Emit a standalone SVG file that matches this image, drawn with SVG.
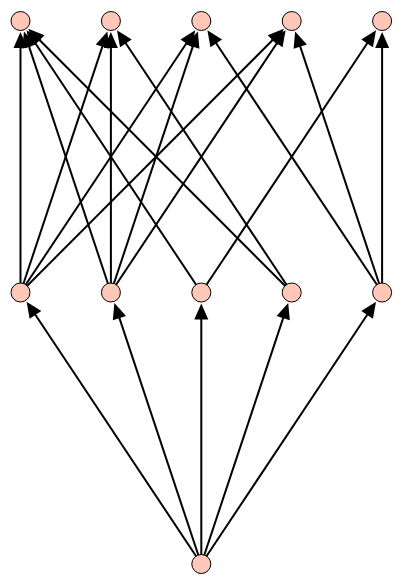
<svg xmlns="http://www.w3.org/2000/svg" width="402" height="584" viewBox="0 0 402 584">
<style>
.e{stroke:#000;stroke-width:2;fill:none;marker-end:url(#ah)}
.n circle{fill:#fec7b8;stroke:#000;stroke-width:1}
</style>
<defs>
<marker id="ah" markerUnits="userSpaceOnUse" markerWidth="16" markerHeight="14" refX="11" refY="7" orient="auto" overflow="visible">
<path d="M0,0 L16,7 L0,14 z" fill="#000"/>
</marker>
</defs>
<rect width="402" height="584" fill="#fff"/>
<g id="connectors">
<line class="e" x1="201.3" y1="564" x2="29.37" y2="305.82"/>
<line class="e" x1="201.3" y1="564" x2="115.95" y2="307.68"/>
<line class="e" x1="201.3" y1="564" x2="201.3" y2="308.5"/>
<line class="e" x1="201.3" y1="564" x2="286.65" y2="307.68"/>
<line class="e" x1="201.3" y1="564" x2="373.23" y2="305.82"/>
<line class="e" x1="20.5" y1="292.5" x2="20.5" y2="37"/>
<line class="e" x1="20.5" y1="292.5" x2="105.85" y2="36.18"/>
<line class="e" x1="20.5" y1="292.5" x2="192.43" y2="34.32"/>
<line class="e" x1="20.5" y1="292.5" x2="280.39" y2="32.32"/>
<line class="e" x1="110.9" y1="292.5" x2="25.55" y2="36.18"/>
<line class="e" x1="110.9" y1="292.5" x2="110.9" y2="37"/>
<line class="e" x1="110.9" y1="292.5" x2="196.25" y2="36.18"/>
<line class="e" x1="110.9" y1="292.5" x2="282.83" y2="34.32"/>
<line class="e" x1="201.3" y1="292.5" x2="29.37" y2="34.32"/>
<line class="e" x1="201.3" y1="292.5" x2="373.23" y2="34.32"/>
<line class="e" x1="291.7" y1="292.5" x2="31.81" y2="32.32"/>
<line class="e" x1="291.7" y1="292.5" x2="119.77" y2="34.32"/>
<line class="e" x1="382.1" y1="292.5" x2="210.17" y2="34.32"/>
<line class="e" x1="382.1" y1="292.5" x2="296.75" y2="36.18"/>
<line class="e" x1="382.1" y1="292.5" x2="382.1" y2="37"/>
</g>
<g id="t1" class="n"><circle cx="20.5" cy="21" r="9.5"/></g>
<g id="t2" class="n"><circle cx="110.9" cy="21" r="9.5"/></g>
<g id="t3" class="n"><circle cx="201.3" cy="21" r="9.5"/></g>
<g id="t4" class="n"><circle cx="291.7" cy="21" r="9.5"/></g>
<g id="t5" class="n"><circle cx="382.1" cy="21" r="9.5"/></g>
<g id="m1" class="n"><circle cx="20.5" cy="292.5" r="9.5"/></g>
<g id="m2" class="n"><circle cx="110.9" cy="292.5" r="9.5"/></g>
<g id="m3" class="n"><circle cx="201.3" cy="292.5" r="9.5"/></g>
<g id="m4" class="n"><circle cx="291.7" cy="292.5" r="9.5"/></g>
<g id="m5" class="n"><circle cx="382.1" cy="292.5" r="9.5"/></g>
<g id="b" class="n"><circle cx="201.3" cy="564" r="9.5"/></g>
</svg>
